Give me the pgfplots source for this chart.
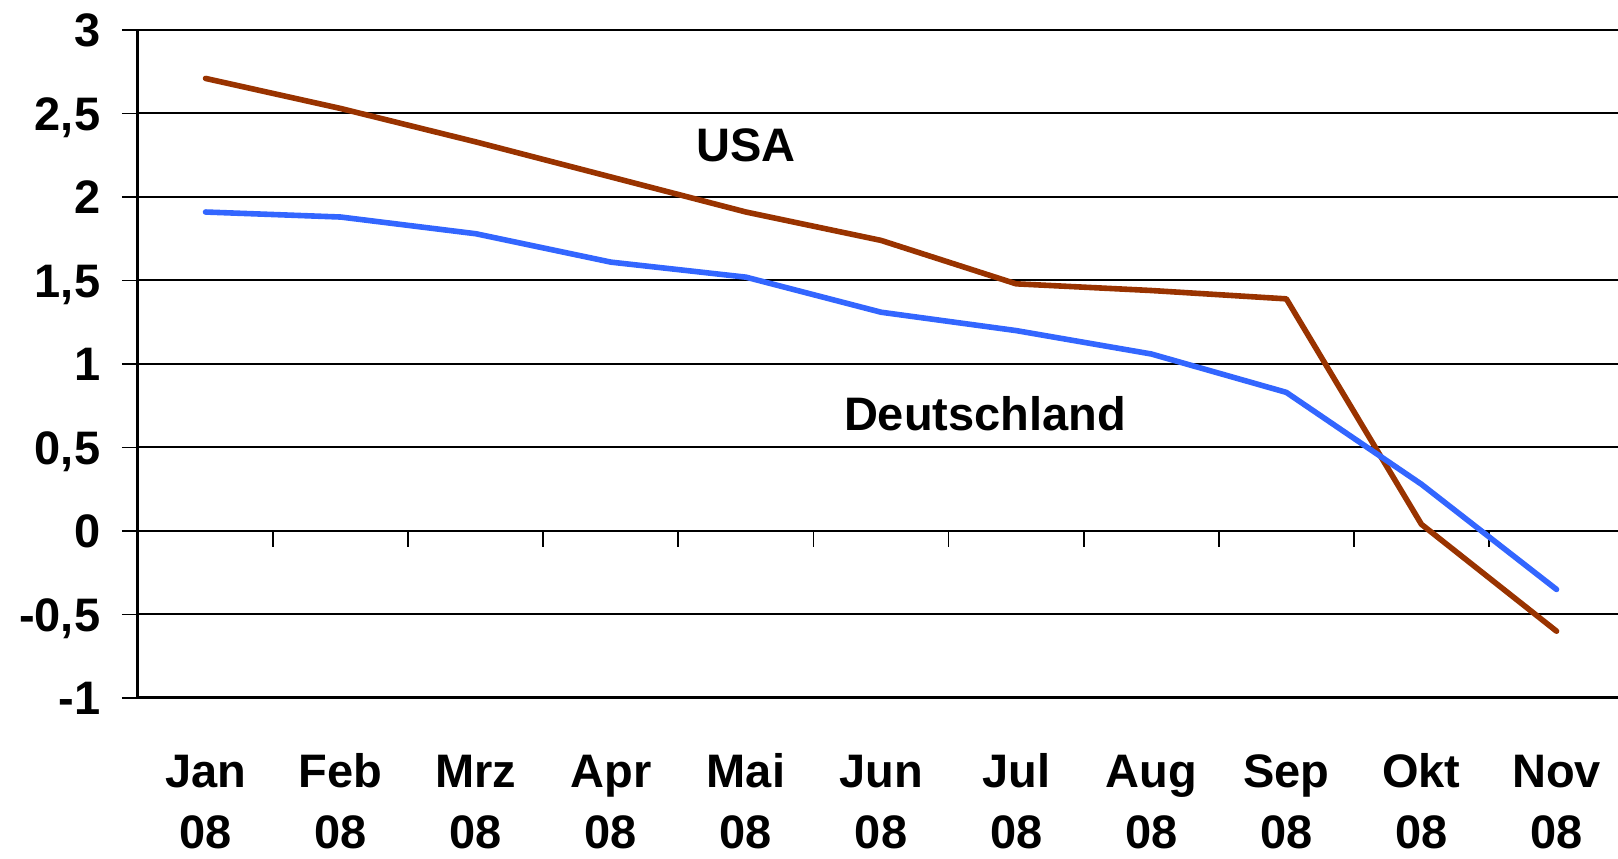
\documentclass[border=0pt]{standalone}
\usepackage{fontspec}
\setmainfont{Liberation Sans}
\usepackage{pgfplots}
\pgfplotsset{compat=1.18}
\definecolor{usa}{HTML}{993300}
\definecolor{de}{HTML}{3366FF}
\newcommand{\lab}[1]{\vphantom{Jblid}#1\\08}
\begin{document}
\begin{tikzpicture}
\begin{axis}[
  name=main,
  scale only axis, width=740pt, height=334pt,
  xmin=-0.5, xmax=10.455, ymin=-1, ymax=3,
  axis x line*=bottom, axis y line*=left,
  axis line style={line width=1.5pt, -},
  tick align=outside,
  major tick length=8pt,
  xtick={0,...,10},
  xticklabels={{\lab{Jan}},{\lab{Feb}},{\lab{Mrz}},{\lab{Apr}},{\lab{Mai}},{\lab{Jun}},{\lab{Jul}},{\lab{Aug}},{\lab{Sep}},{\lab{Okt}},{\lab{Nov}}},
  x tick style={draw=none},
  xticklabel style={anchor=north, inner sep=0pt, align=center, yshift=-19.7pt,
     font=\bfseries\fontsize{23.5}{30.5}\selectfont},
  ytick={-1,-0.5,0,0.5,1,1.5,2,2.5,3},
  yticklabels={-1,{-0,5},0,{0,5},1,{1,5},2,{2,5},3},
  y tick style={line width=0.9pt, black},
  yticklabel style={anchor=east, inner sep=0pt, text height=16.8pt, text depth=0pt, xshift=-10.7pt,
     font=\bfseries\fontsize{23.5}{28}\selectfont},
  ymajorgrids,
  grid style={black, line width=1pt},
  clip=false,
]
\pgfplotsinvokeforeach{0.5,1.5,2.5,3.5,4.5,5.5,6.5,7.5,8.5,9.5}{
  \addplot[black, line width=0.9pt, forget plot] coordinates {(#1,0) (#1,-0.096)};
}
\addplot[usa, line width=2.8pt, line join=round, line cap=round] coordinates {
  (0,2.71) (1,2.53) (2,2.33) (3,2.12) (4,1.91) (5,1.74) (6,1.48) (7,1.44) (8,1.39) (9,0.04) (10,-0.60)
};
\addplot[de, line width=2.8pt, line join=round, line cap=round] coordinates {
  (0,1.91) (1,1.88) (2,1.78) (3,1.61) (4,1.52) (5,1.31) (6,1.20) (7,1.06) (8,0.83) (9,0.28) (10,-0.35)
};
\node[font=\bfseries\fontsize{23.5}{28}\selectfont] at (axis cs:4,2.31) {USA};
\node[font=\bfseries\fontsize{23.5}{28}\selectfont] at (axis cs:5.77,0.70) {Deutschland};
\end{axis}
\pgfresetboundingbox
\path (main.south west) ++(-69pt,-80.5pt) coordinate (bl);
\path (main.north east) ++(0pt,15pt) coordinate (tr);
\useasboundingbox (bl) rectangle (tr);
\end{tikzpicture}
\end{document}
